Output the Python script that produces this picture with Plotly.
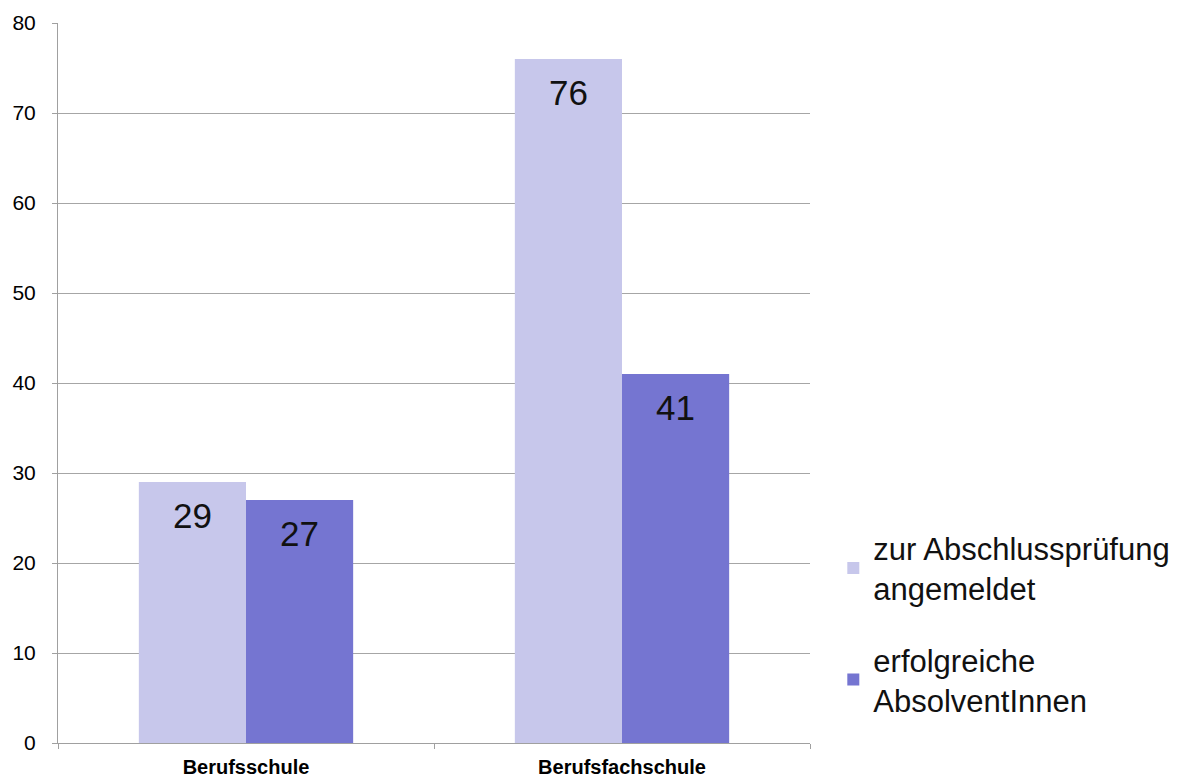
import plotly.graph_objects as go

categories = ["Berufsschule", "Berufsfachschule"]
series_names = ["zur Abschlussprüfung<br>angemeldet", "erfolgreiche<br>AbsolventInnen"]
angemeldet = [29, 76]
erfolgreich = [27, 41]
y_ticks = [0, 10, 20, 30, 40, 50, 60, 70, 80]

colors = ["#C7C7EB", "#7575D1"]
FONT = "Liberation Sans, Arial"
BARGAP = 0.43
bar_w = (1 - BARGAP) / 2
offsets = [-bar_w / 2, bar_w / 2]

fig = go.Figure()
for name, vals, col, grp in zip(series_names, [angemeldet, erfolgreich], colors, ["a", "b"]):
    fig.add_trace(go.Bar(
        x=categories, y=vals, name=name, marker=dict(color=col, line=dict(width=0)),
        legendgroup=grp,
    ))

annotations = []
for vals, off in zip([angemeldet, erfolgreich], offsets):
    for i, v in enumerate(vals):
        annotations.append(dict(
            x=i + off, y=v, xref="x", yref="y", text=str(v), showarrow=False,
            yanchor="middle", yshift=-33,
            font=dict(family=FONT, size=35, color="#111111"),
        ))

fig.update_layout(
    width=1196, height=779,
    margin=dict(l=58, r=386, t=23, b=36),
    paper_bgcolor="white", plot_bgcolor="white",
    barmode="group", bargap=BARGAP, bargroupgap=0,
    font=dict(family=FONT, color="black"),
    showlegend=True,
    legend=dict(x=1.031, y=0.165, xanchor="left", yanchor="middle",
                font=dict(size=31, color="#111111"), tracegroupgap=28,
                itemsizing="constant"),
    annotations=annotations,
)
fig.update_yaxes(
    range=[0, 80], tickvals=y_ticks, showgrid=True, gridcolor="#A6A6A6", gridwidth=1,
    showline=True, linecolor="#A0A0A0", linewidth=1, ticks="outside", ticklen=5,
    tickcolor="#A0A0A0", tickfont=dict(size=21, color="black"), zeroline=False,
    ticklabelstandoff=12, automargin=False,
)
fig.update_xaxes(
    showline=True, linecolor="#A0A0A0", linewidth=1, ticks="outside", ticklen=5,
    tickcolor="#A0A0A0", tickson="boundaries", showgrid=False,
    tickfont=dict(size=20, color="black", family=FONT),
    ticklabelstandoff=6, automargin=False,
    tickvals=categories, ticktext=["<b>" + c + "</b>" for c in categories],
)

fig.write_html("out.html")
